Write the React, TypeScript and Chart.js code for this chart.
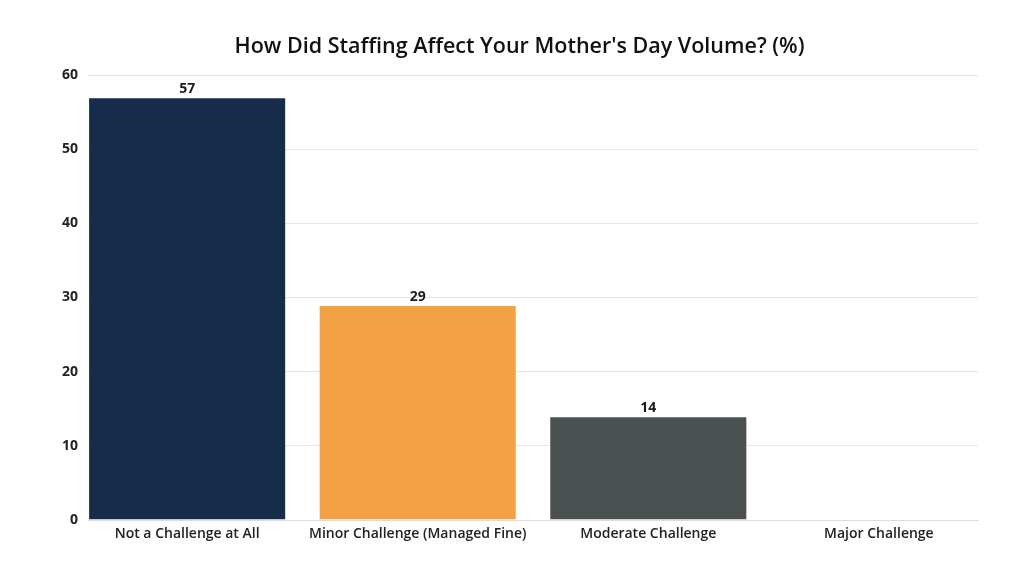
import React, { useEffect, useRef } from "react";
import { Chart, registerables } from "chart.js";

Chart.register(...registerables);

const categories = [
  "Not a Challenge at All",
  "Minor Challenge (Managed Fine)",
  "Moderate Challenge",
  "Major Challenge",
];
const values = [57, 29, 14, 0];
const barColors = ["#152d4b", "#f2a245", "#4a5150", "#8a8a8a"];
const yTicks = [0, 10, 20, 30, 40, 50, 60];
const titleText = "How Did Staffing Affect Your Mother's Day Volume? (%)";

const FONT = "'Open Sans', 'Noto Sans', sans-serif";

const valueLabels = {
  id: "valueLabels",
  afterDatasetsDraw(chart: any) {
    const ctx = chart.ctx;
    const meta = chart.getDatasetMeta(0);
    ctx.save();
    ctx.font = `700 14px ${FONT}`;
    ctx.fillStyle = "#1a1a1a";
    ctx.textAlign = "center";
    ctx.textBaseline = "bottom";
    meta.data.forEach((el: any, i: number) => {
      const v = values[i];
      if (!v) return;
      ctx.fillText(String(v), el.x, el.y - 1);
    });
    ctx.restore();
  },
};

const centeredTitle = {
  id: "centeredTitle",
  afterDraw(chart: any) {
    const ctx = chart.ctx;
    ctx.save();
    ctx.font = `600 21.5px ${FONT}`;
    ctx.fillStyle = "#111";
    ctx.textAlign = "center";
    ctx.textBaseline = "middle";
    ctx.fillText(titleText, chart.width / 2 + 7.5, 47);
    ctx.restore();
  },
};

export default function App() {
  const ref = useRef<HTMLCanvasElement>(null);
  useEffect(() => {
    if (!ref.current) return;
    const chart = new Chart(ref.current, {
      type: "bar",
      data: {
        datasets: [
          {
            data: values.map((v, i) => ({ x: i, y: v })),
            backgroundColor: barColors,
            borderColor: "rgba(255,255,255,0.25)",
            borderWidth: 1,
            categoryPercentage: 1,
            barPercentage: 0.859,
          },
        ],
      },
      options: {
        animation: false,
        responsive: true,
        maintainAspectRatio: false,
        layout: { padding: { left: 0, right: 46, top: 75, bottom: 0 } },
        plugins: {
          legend: { display: false },
          tooltip: { enabled: false },
          title: { display: false },
        },
        scales: {
          x: {
            type: "linear",
            min: -0.43,
            max: 3.43,
            offset: false,
            afterBuildTicks: (scale: any) => {
              scale.ticks = categories.map((_, i) => ({ value: i }));
            },
            afterFit: (scale: any) => {
              scale.height = 56;
            },
            grid: { display: false, drawTicks: false },
            border: { display: true, color: "#dddddd" },
            ticks: {
              autoSkip: false,
              maxRotation: 0,
              padding: 6,
              color: "#222",
              font: { family: FONT, size: 14, weight: "600" },
              callback: (v: any) => categories[Math.round(Number(v))] ?? "",
            },
          },
          y: {
            min: 0,
            max: 60,
            afterBuildTicks: (scale: any) => {
              scale.ticks = yTicks.map((v) => ({ value: v }));
            },
            afterFit: (scale: any) => {
              scale.width = 88;
            },
            grid: { color: "#e6e6e6", drawTicks: false },
            border: { display: false },
            ticks: {
              padding: 10,
              color: "#222",
              font: { family: FONT, size: 14, weight: "700" },
            },
          },
        },
      },
      plugins: [valueLabels, centeredTitle],
    } as any);
    return () => chart.destroy();
  }, []);
  return (
    <div style={{ position: "fixed", left: 0, top: 0, width: 1024, height: 576, background: "#fff" }}>
      <canvas ref={ref} />
    </div>
  );
}
